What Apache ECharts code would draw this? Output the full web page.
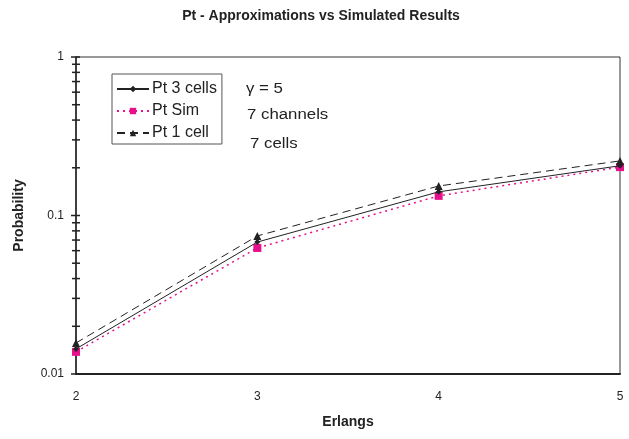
<!DOCTYPE html>
<html><head><meta charset="utf-8">
<script src="https://cdn.jsdelivr.net/npm/echarts@6/dist/echarts.min.js"></script>
<style>html,body{margin:0;padding:0;background:#fff}#c{width:629px;height:439px}</style>
</head><body><div id="c"></div>
<script>
var erlangs = [2, 3, 4, 5];
var pt3cells = [0.0144, 0.068, 0.141, 0.206];
var ptSim = [0.0138, 0.0624, 0.133, 0.202];
var pt1cell = [0.0157, 0.0743, 0.1535, 0.221];
var yTickLabels = ['0.01', '0.1', '1'];
var yTickValues = [0.01,0.02,0.03,0.04,0.05,0.06,0.07,0.08,0.09,0.1,0.2,0.3,0.4,0.5,0.6,0.7,0.8,0.9,1];
var annotations = ['\u03b3 = 5', '7 channels', '7 cells'];

function pairs(ys){ return erlangs.map(function(x,i){ return [x, ys[i]]; }); }
var FONT = '"Liberation Sans", Arial, sans-serif';
var chart = echarts.init(document.getElementById('c'), null, {renderer:'canvas'});
chart.setOption({
  animation: false,
  backgroundColor: '#fff',
  title: {
    text: 'Pt - Approximations vs Simulated Results',
    left: 316, top: 4, textAlign: 'center',
    textStyle: {fontFamily: FONT, fontSize: 14, fontWeight: 'bold', color: '#222'}
  },
  grid: {left: 76, right: 9, top: 57, bottom: 65, show: true, borderColor: '#333', borderWidth: 1},
  legend: {
    left: 112, top: 74, orient: 'vertical', itemGap: 4, itemWidth: 32, itemHeight: 8,
    padding: [6, 5, 2, 4],
    borderColor: '#555', borderWidth: 1, backgroundColor: '#fff',
    textStyle: {fontFamily: FONT, fontSize: 16, color: '#222', padding: [0,0,0,-2], lineHeight: 18},
    data: ['Pt 3 cells', 'Pt Sim', 'Pt 1 cell']
  },
  xAxis: {
    type: 'value', min: 2, max: 5, interval: 1,
    name: 'Erlangs', nameLocation: 'middle', nameGap: 41,
    nameTextStyle: {fontFamily: FONT, fontSize: 14, fontWeight: 'bold', color: '#222'},
    axisLine: {lineStyle: {color: '#222', width: 2}},
    axisTick: {show: false},
    splitLine: {show: false},
    axisLabel: {fontFamily: FONT, fontSize: 12, color: '#222', margin: 17}
  },
  yAxis: {
    type: 'log', logBase: 10, min: 0.01, max: 1,
    name: 'Probability', nameLocation: 'middle', nameGap: 50,
    nameTextStyle: {fontFamily: FONT, fontSize: 14, fontWeight: 'bold', color: '#222'},
    axisLine: {lineStyle: {color: '#222', width: 1.5}},
    axisTick: {show: false},
    splitLine: {show: false},
    axisLabel: {fontFamily: FONT, fontSize: 12, color: '#222', margin: 12,
      formatter: function(v){ var s = String(+v.toPrecision(3)); return yTickLabels.indexOf(s) >= 0 ? s : ''; }}
  },
  series: [
    {name: 'Pt 3 cells', type: 'line', data: pairs(pt3cells), symbol: 'diamond', symbolSize: 6,
      lineStyle: {color: '#222', width: 1}, itemStyle: {color: '#222'}, z: 3},
    {name: 'Pt Sim', type: 'line', data: pairs(ptSim), symbol: 'rect', symbolSize: 8,
      lineStyle: {color: '#e8108a', width: 1.5, type: [2, 4]}, itemStyle: {color: '#e8108a'}, z: 2},
    {name: 'Pt 1 cell', type: 'line', data: pairs(pt1cell), symbol: 'triangle', symbolSize: 8,
      lineStyle: {color: '#222', width: 1, type: [8, 5]}, itemStyle: {color: '#222'}, z: 4},
    {name: 'ticks', type: 'custom', silent: true, legendHoverLink: false,
      data: yTickValues.map(function(v){ return [2, v]; }),
      renderItem: function(params, api){
        var p = api.coord([2, api.value(1)]);
        var v = api.value(1);
        var major = yTickLabels.indexOf(String(+v.toPrecision(3))) >= 0;
        return {type: 'line', shape: {x1: p[0]-(major ? 5 : 4), y1: p[1], x2: p[0]+4, y2: p[1]},
          style: {stroke: '#222', lineWidth: 1.5}};
      }, z: 5}
  ],
  graphic: [
    {type: 'text', left: 246, top: 82, scaleX: 1.2, style: {text: annotations[0], font: '14px ' + FONT, fill: '#222'}},
    {type: 'text', left: 247, top: 108, scaleX: 1.2, style: {text: annotations[1], font: '14px ' + FONT, fill: '#222'}},
    {type: 'text', left: 250, top: 137, scaleX: 1.2, style: {text: annotations[2], font: '14px ' + FONT, fill: '#222'}}
  ]
});
</script></body></html>
